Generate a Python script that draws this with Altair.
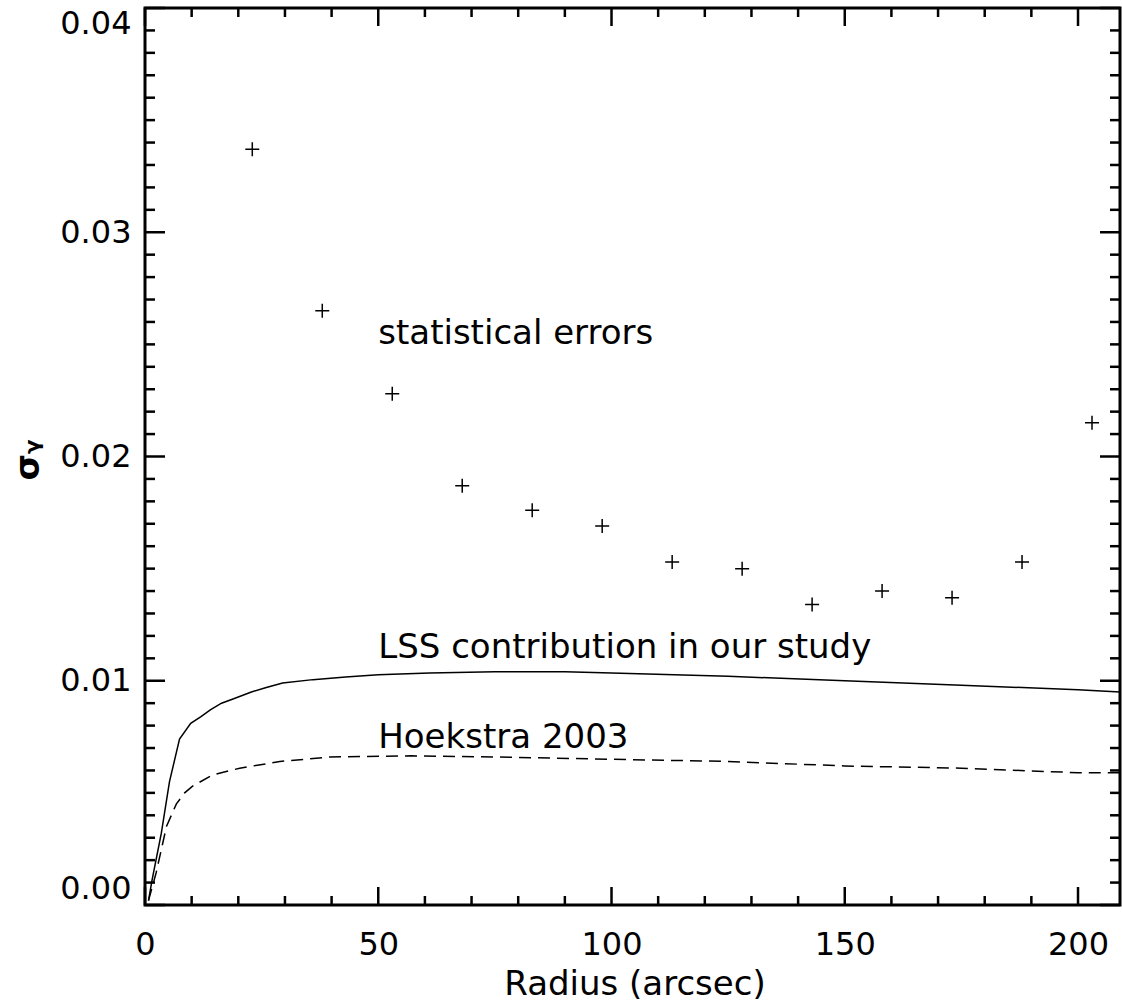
import altair as alt
import pandas as pd

# ---- data ----
radius_pts = [23, 38, 53, 68, 83, 98, 113, 128, 143, 158, 173, 188, 203]
sigma_stat = [0.0337, 0.0265, 0.0228, 0.0187, 0.0176, 0.0169, 0.0153, 0.0150,
              0.0134, 0.0140, 0.0137, 0.0153, 0.0215]

lss_r = [0.75, 1.5, 3.5, 5.25, 7.4, 9.8, 12, 14, 16.4, 19, 22.8, 26, 29.5, 36, 43,
         50, 61, 75, 90, 100, 125, 150, 175, 200, 209]
lss_s = [0.0002, 0.0011, 0.0032, 0.0055, 0.0074, 0.0081, 0.0084, 0.0087, 0.0090,
         0.0092, 0.0095, 0.0097, 0.0099, 0.01005, 0.01017, 0.01027, 0.01035, 0.0104,
         0.0104, 0.01035, 0.0102, 0.0100, 0.0098, 0.0096, 0.0095]

hoek_r = [0.75, 2.4, 4.6, 6.7, 8.5, 10.2, 14.5, 20.3, 28.9, 39.6, 57, 75, 100, 125,
          150, 175, 200, 209]
hoek_s = [0.0002, 0.00145, 0.0035, 0.0045, 0.0050, 0.0053, 0.0058, 0.0061, 0.0064,
          0.0066, 0.00665, 0.0066, 0.0065, 0.0064, 0.0062, 0.0061, 0.0059, 0.0059]

ann_x = [50, 50, 50]
ann_y = [0.025, 0.011, 0.007]
ann_text = ["statistical errors", "LSS contribution in our study", "Hoekstra 2003"]

x_major = [0, 50, 100, 150, 200]
x_minor = [10, 20, 30, 40, 60, 70, 80, 90, 110, 120, 130, 140, 160, 170, 180, 190]
y_major = [0.0, 0.01, 0.02, 0.03, 0.04]
y_minor = [i / 1000 for i in range(1, 40) if i % 10 != 0]

x_title = "Radius (arcsec)"
y_title = "σᵧ"

W, H = 975, 897
FONT = "DejaVu Sans"

xs = alt.Scale(domain=[0, 209], nice=False, zero=False)
ys = alt.Scale(domain=[0, 0.04], nice=False, zero=False)

x_axis = alt.Axis(values=x_major, format="d", title=None, ticks=False, tickSize=0,
                  domain=False, grid=False, labelFont=FONT, labelFontSize=32,
                  labelColor="black", labelPadding=24, labelFlush=False)
y_axis = alt.Axis(values=y_major, format=".2f", title=None, ticks=False, tickSize=0,
                  domain=False, grid=False, labelFont=FONT, labelFontSize=32,
                  labelColor="black", labelPadding=14, labelFlush=True)

def X(f):
    return alt.X(f, scale=xs, axis=x_axis)

def Y(f):
    return alt.Y(f, scale=ys, axis=y_axis)

pts = pd.DataFrame({"r": radius_pts, "s": sigma_stat})
lss = pd.DataFrame({"r": lss_r, "s": lss_s})
hoek = pd.DataFrame({"r": hoek_r, "s": hoek_s})
ann = pd.DataFrame({"r": ann_x, "s": ann_y, "t": ann_text})
xmaj = pd.DataFrame({"v": x_major})
xmin = pd.DataFrame({"v": x_minor})
ymaj = pd.DataFrame({"v": y_major})
ymin = pd.DataFrame({"v": y_minor})

crosses = alt.Chart(pts).mark_point(
    shape="M-1,0L1,0M0,-1L0,1", size=196, filled=False,
    stroke="black", strokeWidth=1.5, opacity=1
).encode(x=X("r:Q"), y=Y("s:Q"))

solid = alt.Chart(lss).mark_line(color="black", strokeWidth=1.5).encode(
    x=X("r:Q"), y=Y("s:Q"))

dashed = alt.Chart(hoek).mark_line(color="black", strokeWidth=1.5,
                                   strokeDash=[12, 7]).encode(
    x=X("r:Q"), y=Y("s:Q"))

labels = alt.Chart(ann).mark_text(
    font=FONT, fontSize=34, align="left", baseline="alphabetic", color="black"
).encode(x=X("r:Q"), y=Y("s:Q"), text="t:N")

tw = 2.5
xt_bot_maj = alt.Chart(xmaj).mark_rule(color="black", strokeWidth=tw).encode(
    x=X("v:Q"), y=alt.value(H), y2=alt.value(H - 18))
xt_bot_min = alt.Chart(xmin).mark_rule(color="black", strokeWidth=tw).encode(
    x=X("v:Q"), y=alt.value(H), y2=alt.value(H - 9))
xt_top_maj = alt.Chart(xmaj).mark_rule(color="black", strokeWidth=tw).encode(
    x=X("v:Q"), y=alt.value(0), y2=alt.value(18))
xt_top_min = alt.Chart(xmin).mark_rule(color="black", strokeWidth=tw).encode(
    x=X("v:Q"), y=alt.value(0), y2=alt.value(9))
yt_l_maj = alt.Chart(ymaj).mark_rule(color="black", strokeWidth=tw).encode(
    y=Y("v:Q"), x=alt.value(0), x2=alt.value(20))
yt_l_min = alt.Chart(ymin).mark_rule(color="black", strokeWidth=tw).encode(
    y=Y("v:Q"), x=alt.value(0), x2=alt.value(10))
yt_r_maj = alt.Chart(ymaj).mark_rule(color="black", strokeWidth=tw).encode(
    y=Y("v:Q"), x=alt.value(W), x2=alt.value(W - 20))
yt_r_min = alt.Chart(ymin).mark_rule(color="black", strokeWidth=tw).encode(
    y=Y("v:Q"), x=alt.value(W), x2=alt.value(W - 10))

xtitle = alt.Chart(pd.DataFrame({"t": [x_title]})).mark_text(
    font=FONT, fontSize=34, align="center", baseline="alphabetic", color="black"
).encode(text="t:N", x=alt.value(490), y=alt.value(H + 90))

ytitle = alt.Chart(pd.DataFrame({"t": [y_title]})).mark_text(
    font=FONT, fontSize=34, fontWeight="bold", angle=270, align="center",
    baseline="middle", color="black"
).encode(text="t:N", x=alt.value(-116), y=alt.value(452))

chart = alt.layer(
    crosses, solid, dashed, labels,
    xt_bot_maj, xt_bot_min, xt_top_maj, xt_top_min,
    yt_l_maj, yt_l_min, yt_r_maj, yt_r_min,
    xtitle, ytitle
).properties(
    width=W, height=H,
    autosize=alt.AutoSizeParams(type="none"),
    padding={"left": 145, "top": 8, "right": 2, "bottom": 100},
    background="white",
).configure_view(stroke="black", strokeWidth=3)

chart.save("out.html", embed_options={"renderer": "svg", "actions": False})
